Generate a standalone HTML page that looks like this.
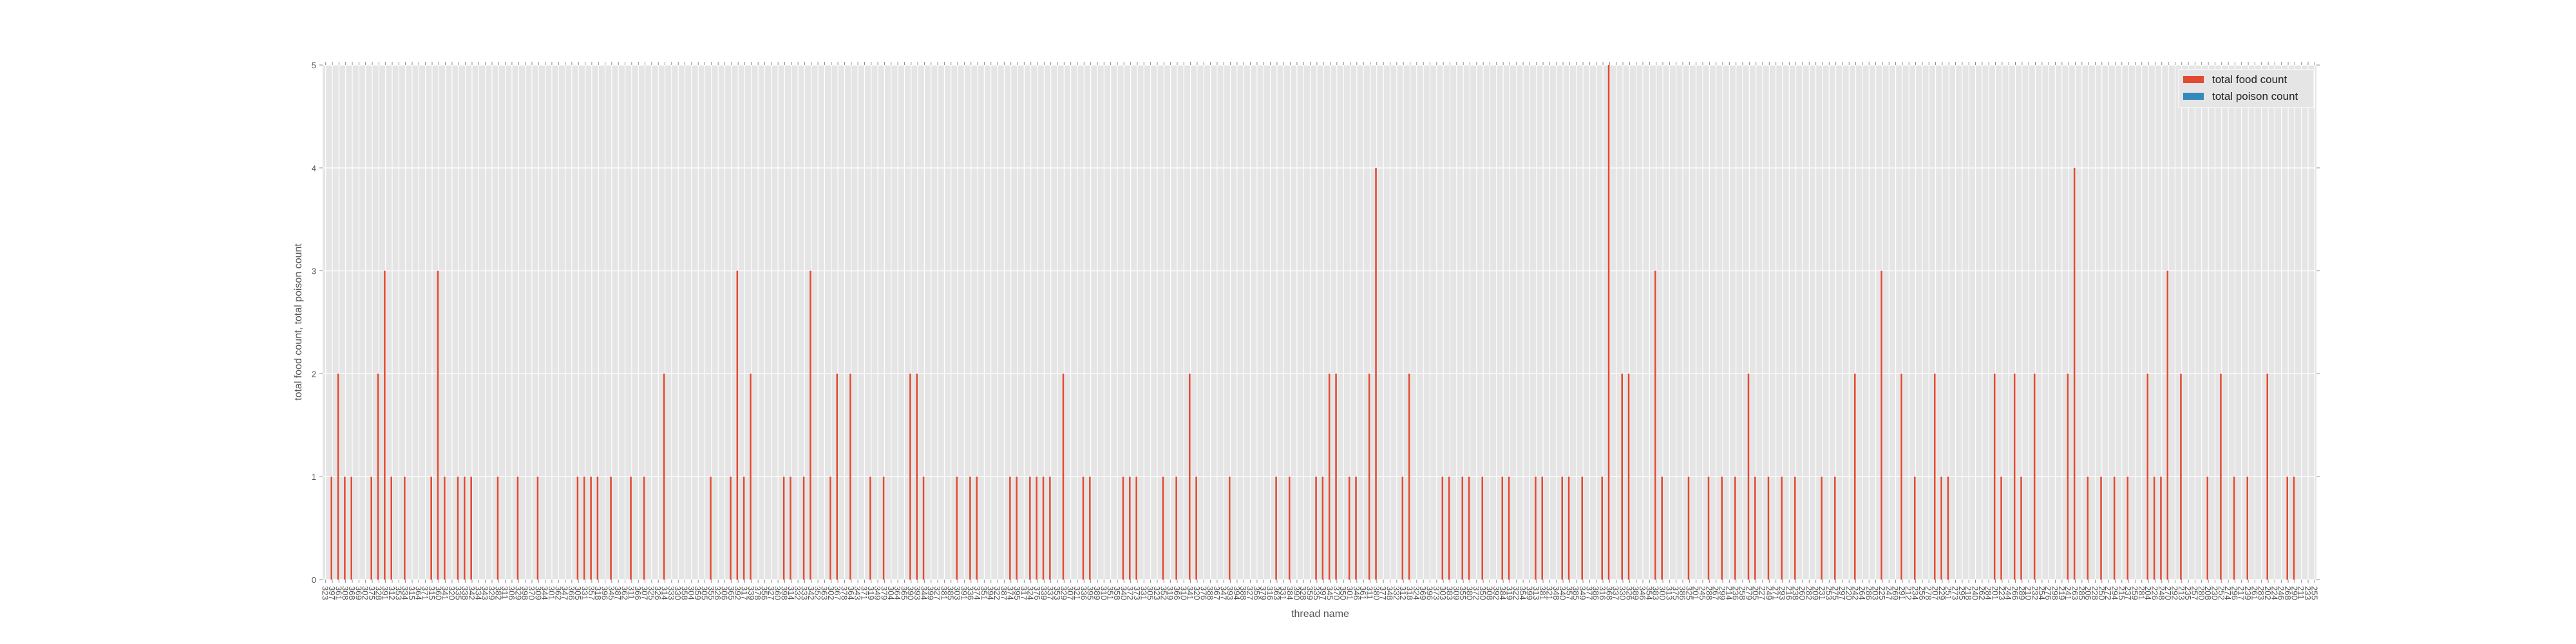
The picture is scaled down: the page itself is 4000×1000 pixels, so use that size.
<!DOCTYPE html>
<html><head><meta charset="utf-8">
<style>
html,body{margin:0;padding:0;background:#fff;}
svg{display:block;font-family:"Liberation Sans","DejaVu Sans",sans-serif;}
</style></head>
<body>
<svg id="chart" width="4000" height="1000" viewBox="0 0 4000 1000">
<rect x="501" y="101" width="3096" height="799" fill="#e5e5e5"/>
<g id="grid"></g>
<g id="bars"></g>
<g id="ticks"></g>
<g id="xlabels" font-size="13" fill="#555"></g>
<g id="ylabels" font-size="13" fill="#555" text-anchor="end"></g>
<text x="2050" y="958" font-size="16" fill="#555" text-anchor="middle">thread name</text>
<text transform="translate(468,500) rotate(-90)" font-size="16" fill="#555" text-anchor="middle">total food count, total poison count</text>
<g>
<rect x="3383" y="108" width="210" height="59" fill="#e5e5e5" stroke="#fff" stroke-width="1"/>
<rect x="3390" y="118" width="32" height="11" fill="#E24A33"/>
<text x="3435" y="129" font-size="17" fill="#222">total food count</text>
<rect x="3390" y="144" width="32" height="11" fill="#348ABD"/>
<text x="3435" y="155" font-size="17" fill="#222">total poison count</text>
</g>
</svg>
<script>
const foodIdx = [1,2,3,4,7,8,9,10,12,16,17,18,20,21,22,26,29,32,38,39,40,41,43,46,48,51,58,61,62,63,64,69,70,72,73,76,77,79,82,84,88,89,90,95,97,98,103,104,106,107,108,109,111,114,115,120,121,122,126,128,130,131,136,143,145,149,150,151,152,154,155,157,158,162,163,168,169,171,172,174,177,178,182,183,186,187,189,192,193,195,196,200,201,205,208,210,212,214,215,217,219,221,225,227,230,234,237,239,242,243,244,251,252,254,255,257,262,263,265,267,269,271,274,275,276,277,279,283,285,287,289,292,295,296];
const foodVal = [1,2,1,1,1,2,3,1,1,1,3,1,1,1,1,1,1,1,1,1,1,1,1,1,1,2,1,1,3,1,2,1,1,1,3,1,2,2,1,1,2,2,1,1,1,1,1,1,1,1,1,1,2,1,1,1,1,1,1,1,2,1,1,1,1,1,1,2,2,1,1,2,4,1,2,1,1,1,1,1,1,1,1,1,1,1,1,1,5,2,2,3,1,1,1,1,1,2,1,1,1,1,1,1,2,3,2,1,2,1,1,2,1,2,1,2,2,4,1,1,1,1,2,1,1,3,2,1,2,1,1,2,1,1];
const poisonVal = new Array(300).fill(0);
const categories = ("323 397 361 308 368 369 302 375 328 391 312 353 334 315 364 371 315 360 341 320 335 338 342 334 343 329 382 311 306 329 398 370 309 344 301 362 347 366 305 331 "+
"357 318 396 345 387 362 311 366 307 325 326 314 333 330 358 304 359 305 355 326 306 365 392 317 339 378 356 327 360 398 314 332 333 342 352 363 302 367 378 364 "+
"343 371 319 349 379 304 364 365 390 393 344 399 327 381 385 303 391 336 374 351 394 322 387 374 395 317 324 376 339 337 353 329 307 321 336 395 389 310 351 358 "+
"340 372 373 331 305 323 352 319 366 310 341 320 376 388 367 347 393 394 388 327 356 379 316 363 331 384 390 328 359 335 397 345 370 350 301 346 361 311 380 377 "+
"348 332 312 318 324 369 396 373 303 383 309 355 380 372 350 308 392 384 319 322 354 399 313 381 321 348 340 357 385 349 377 386 316 368 337 330 326 389 346 354 "+
"383 300 313 375 386 325 201 245 288 267 299 214 236 258 279 205 227 249 271 293 216 238 260 282 209 231 253 275 297 220 242 264 286 203 225 247 269 291 212 234 "+
"256 278 207 229 251 273 295 218 240 262 284 201 223 244 266 289 210 232 254 276 298 219 241 263 285 206 228 250 272 294 215 237 259 281 204 226 248 270 292 213 "+
"235 257 280 208 230 252 274 296 217 239 261 283 202 224 246 268 290 211 233 255").split(" ");
const yTicks = [0,1,2,3,4,5];

const NS="http://www.w3.org/2000/svg";
const L=501,R=3597,T=101,B=900,X0=505.7,STEP=10.33,YMAX=5;
const n=categories.length;
function xPos(i){return X0+i*STEP;}
function yPos(v){return B-(v/YMAX)*(B-T);}
function mk(tag,attrs,parent){const e=document.createElementNS(NS,tag);for(const k in attrs)e.setAttribute(k,attrs[k]);parent.appendChild(e);return e;}
const grid=document.getElementById('grid'),bars=document.getElementById('bars'),ticks=document.getElementById('ticks'),xl=document.getElementById('xlabels'),yl=document.getElementById('ylabels');
yTicks.forEach(v=>{
  const y=yPos(v);
  const g=mk('line',{x1:L,x2:R,y1:y,y2:y,stroke:'#fff','stroke-width':1.3},grid);
  
  
  const t1=mk('line',{x1:L-5,x2:L,y1:y,y2:y,stroke:'#888','stroke-width':1},ticks);
  
  
  const t2=mk('line',{x1:R,x2:R+5,y1:y,y2:y,stroke:'#888','stroke-width':1},ticks);
  
  
  const lab=mk('text',{x:L-10,y:y+5},yl);lab.textContent=String(v);
  
  
});
for(let i=0;i<n;i++){
  const x=xPos(i);
  const g=mk('line',{x1:x,x2:x,y1:T,y2:B,stroke:'#fff','stroke-width':1.2},grid);
  
  
  const t1=mk('line',{x1:x,x2:x,y1:B,y2:B+5,stroke:'#888','stroke-width':1},ticks);
  
  
  const t2=mk('line',{x1:x,x2:x,y1:T-5,y2:T,stroke:'#888','stroke-width':1},ticks);
  
  
  const lab=mk('text',{transform:`translate(${x-5},${B+10}) rotate(90)`},xl);lab.textContent=categories[i];
  
  
}
const BW=STEP*0.25;
foodIdx.forEach((idx,k)=>{
  const v=foodVal[k];
  const r=mk('rect',{x:xPos(idx)-BW,y:yPos(v),width:BW,height:B-yPos(v),fill:'#E24A33'},bars);
  
  
});
poisonVal.forEach((v,i)=>{
  if(v<=0)return;
  const r=mk('rect',{x:xPos(i),y:yPos(v),width:BW,height:B-yPos(v),fill:'#348ABD'},bars);
  
  
});
</script>
</body></html>
